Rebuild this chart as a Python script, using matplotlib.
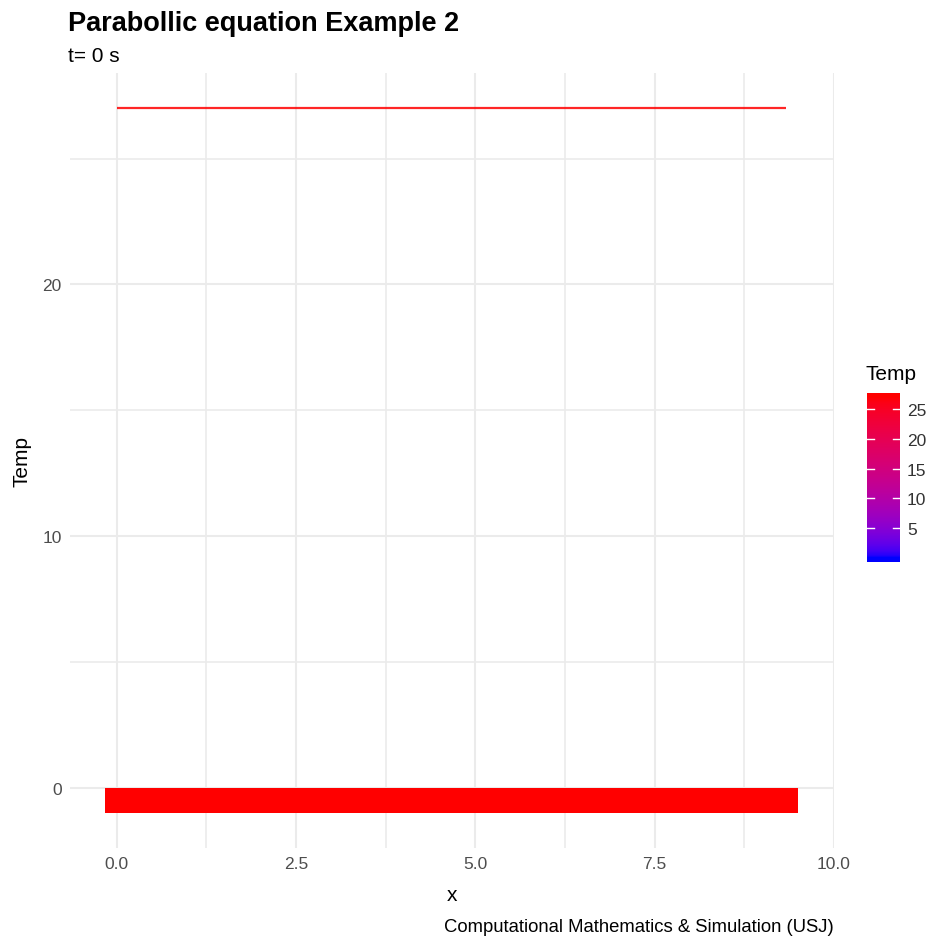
import matplotlib
matplotlib.use('Agg')
import matplotlib.pyplot as plt
from matplotlib.colors import ListedColormap, Normalize
import numpy as np

plt.rcParams['font.family'] = ['Liberation Sans', 'DejaVu Sans']

# temperature profile at t = 0
x = np.arange(29) / 3
temp = np.full(29, 27.0)
bar_ticks = [5, 10, 15, 20, 25]
x_ticks = [0.0, 2.5, 5.0, 7.5, 10.0]
y_ticks = [0, 10, 20]


# blue -> red gradient interpolated in CIE Lab (like scale_colour_gradient)
def _to_lab(rgb):
    c = np.asarray(rgb, float)
    lin = np.where(c <= 0.04045, c / 12.92, ((c + 0.055) / 1.055) ** 2.4)
    m = np.array([[0.4124, 0.3576, 0.1805],
                  [0.2126, 0.7152, 0.0722],
                  [0.0193, 0.1192, 0.9505]])
    xyz = m @ lin / np.array([0.95047, 1.0, 1.08883])
    f = np.where(xyz > 0.008856, np.cbrt(xyz), 7.787 * xyz + 16 / 116)
    return np.array([116 * f[1] - 16, 500 * (f[0] - f[1]), 200 * (f[1] - f[2])])


def _from_lab(lab):
    L, a, b = lab
    fy = (L + 16) / 116
    fx = fy + a / 500
    fz = fy - b / 200
    f = np.array([fx, fy, fz])
    xyz = np.where(f ** 3 > 0.008856, f ** 3, (f - 16 / 116) / 7.787)
    xyz = xyz * np.array([0.95047, 1.0, 1.08883])
    minv = np.array([[3.2406, -1.5372, -0.4986],
                     [-0.9689, 1.8758, 0.0415],
                     [0.0557, -0.2040, 1.0570]])
    lin = np.clip(minv @ xyz, 0, 1)
    c = np.where(lin <= 0.0031308, 12.92 * lin, 1.055 * lin ** (1 / 2.4) - 0.055)
    return np.clip(c, 0, 1)


lo, hi = _to_lab([0, 0, 1]), _to_lab([1, 0, 0])
cmap = ListedColormap([_from_lab(lo + t * (hi - lo)) for t in np.linspace(0, 1, 256)])
norm = Normalize(0, 27)

W = H = 937
fig = plt.figure(figsize=(W / 100, H / 100), dpi=100)


def px_axes(l, t, r, b):
    return fig.add_axes([l / W, 1 - b / H, (r - l) / W, (b - t) / H])


ax = px_axes(70, 74, 834, 849)
for s in ax.spines.values():
    s.set_visible(False)

# tiles along the rod
ax.bar(x, np.ones_like(x), width=1 / 3, bottom=-1, color=cmap(norm(temp)),
       linewidth=0, zorder=3)
# temperature line, coloured by value
for i in range(len(x) - 1):
    ax.plot(x[i:i + 2], temp[i:i + 2], color=cmap(norm(temp[i])), lw=1.6,
            alpha=0.85, solid_capstyle='butt', zorder=3)

ax.set_xlim(-0.65, 9.98)
ax.set_ylim(-2.4, 28.4)
ax.set_xticks(x_ticks)
ax.set_xticklabels([f'{v:.1f}' for v in x_ticks])
ax.set_yticks(y_ticks)
ax.set_xticks([1.25, 3.75, 6.25, 8.75], minor=True)
ax.set_yticks([5, 15, 25], minor=True)
ax.grid(which='major', color='#ebebeb', lw=1.5, zorder=0)
ax.grid(which='minor', color='#ebebeb', lw=1.2, zorder=0)
ax.tick_params(which='both', length=0, labelsize=12.5, labelcolor='#4d4d4d', pad=6)
ax.set_xlabel('x', fontsize=15, labelpad=10)
ax.set_ylabel('Temp', fontsize=15, labelpad=8)

fig.text(68 / W, 1 - 31 / H, 'Parabollic equation Example 2', fontsize=19.5,
         fontweight='bold', ha='left', va='baseline')
fig.text(68 / W, 1 - 62 / H, 't= 0 s', fontsize=15, ha='left', va='baseline')
fig.text(834 / W, 1 - 932 / H, 'Computational Mathematics & Simulation (USJ)',
         fontsize=13.3, ha='right', va='baseline')

# colour bar legend
cax = px_axes(867, 394, 900, 563)
lo_v, hi_v = -0.7, 27.7
grad = np.linspace(lo_v, hi_v, 300).reshape(-1, 1)
cax.imshow(grad, cmap=cmap, norm=norm, aspect='auto', origin='lower',
           extent=[0, 1, lo_v, hi_v])
cax.set_xlim(0, 1)
cax.set_ylim(lo_v, hi_v)
for v in bar_ticks:
    cax.plot([0, 0.2], [v, v], color='white', lw=1)
    cax.plot([0.8, 1], [v, v], color='white', lw=1)
cax.set_xticks([])
cax.yaxis.tick_right()
cax.set_yticks(bar_ticks)
cax.tick_params(length=0, labelsize=12.5, labelcolor='#333333', pad=5)
for s in cax.spines.values():
    s.set_visible(False)
fig.text(866 / W, 1 - 380 / H, 'Temp', fontsize=15, ha='left', va='baseline')

fig.savefig('out.png', dpi=100)
